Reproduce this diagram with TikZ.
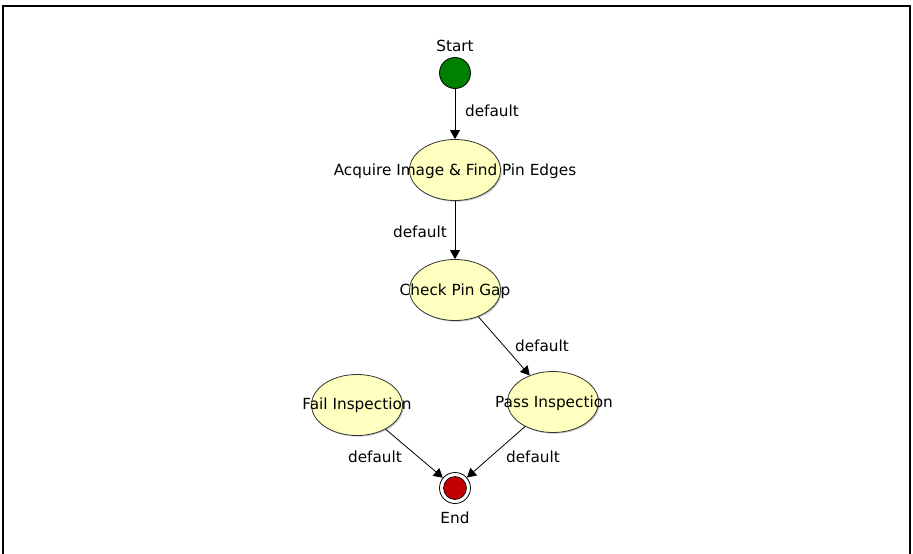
\documentclass[tikz,border=0pt]{standalone}
\usepackage{fontspec}
\setmainfont{DejaVu Sans}
\usetikzlibrary{shapes.geometric,arrows.meta,shadows}
\definecolor{stateyellow}{RGB}{255,255,192}
\definecolor{startgreen}{RGB}{0,128,0}
\definecolor{endred}{RGB}{192,0,0}
\tikzset{
  statebox/.style={ellipse, draw=black!80, fill=stateyellow, minimum width=91pt, minimum height=61pt, inner sep=0pt, line width=0.8pt,
    drop shadow={shadow xshift=1.2pt, shadow yshift=-1.2pt, fill=black!35, opacity=0.6}},
  lbl/.style={font=\fontsize{15.3}{17}\selectfont, inner sep=0pt},
  conn/.style={draw=black, line width=0.8pt, -{Triangle[length=9pt,width=10pt]}},
  deflbl/.style={font=\fontsize{15.3}{17}\selectfont, inner sep=0pt},
}
\begin{document}
\begin{tikzpicture}[x=1pt,y=-1pt]
\useasboundingbox (0,0) rectangle (913,554);
\fill[white] (0,0) rectangle (913,554);
\draw[line width=2pt] (3,554) -- (3,6) -- (909.5,6) -- (909.5,554);

% start
\node[circle, draw=black, fill=startgreen, minimum size=31pt, inner sep=0pt, line width=0.8pt] (start) at (455,73) {};
\node[lbl] (startlbl) at (455,46) {Start};

% states
\node[statebox] (acq) at (455,170) {};
\node[lbl] (acqt) at (455,171) {Acquire Image \& Find Pin Edges};
\node[statebox] (chk) at (455,290) {};
\node[lbl] (chkt) at (455,291) {Check Pin Gap};
\node[statebox] (pass) at (553,402) {};
\node[lbl] (passt) at (554,403) {Pass Inspection};
\node[statebox] (fail) at (357,405) {};
\node[lbl] (failt) at (357,405) {Fail Inspection};

% end
\node[circle, draw=black, fill=white, minimum size=31pt, inner sep=0pt, line width=0.8pt] (end) at (455,488) {};
\node[circle, draw=black, fill=endred, minimum size=23pt, inner sep=0pt, line width=0.6pt] (endin) at (455,488) {};
\node[lbl] (endlbl) at (455,518) {End};

% connectors
\draw[conn] (start) -- (acq);
\draw[conn] (acq) -- (chk);
\draw[conn] (chk) -- (pass);
\draw[conn] (fail) -- (end);
\draw[conn] (pass) -- (end);

\node[deflbl] (d1) at (492,111) {default};
\node[deflbl] (d2) at (420,232) {default};
\node[deflbl] (d3) at (542,346) {default};
\node[deflbl] (d4) at (375,457) {default};
\node[deflbl] (d5) at (533,457) {default};
\end{tikzpicture}
\end{document}
